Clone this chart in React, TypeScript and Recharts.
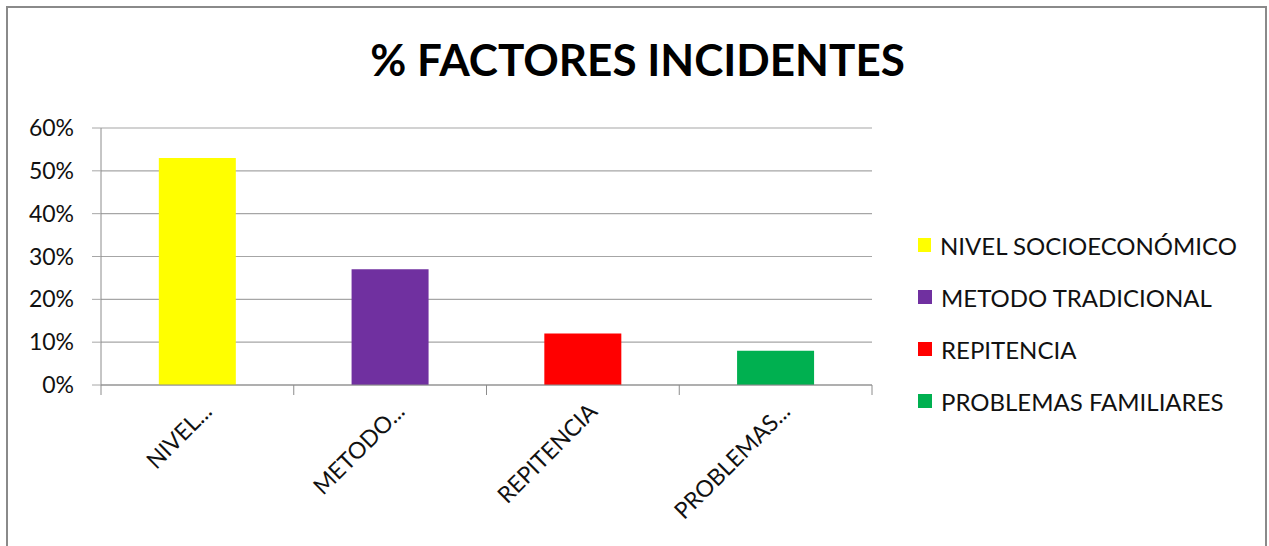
import React from 'react';
import { BarChart, Bar, XAxis, YAxis, CartesianGrid, Cell, Legend } from 'recharts';

const categories = ['NIVEL SOCIOECONÓMICO', 'METODO TRADICIONAL', 'REPITENCIA', 'PROBLEMAS FAMILIARES'];
const axisLabels = ['NIVEL...', 'METODO...', 'REPITENCIA', 'PROBLEMAS...'];
const percentages = [0.53, 0.27, 0.12, 0.08];
const barColors = ['#FFFF00', '#7030A0', '#FF0000', '#00B050'];
const yTicks = [0, 0.1, 0.2, 0.3, 0.4, 0.5, 0.6];

const data = categories.map((name, i) => ({ name, value: percentages[i] }));

const CategoryTick = (props: any) => {
  const { x, y, payload, index, visibleTicksCount } = props;
  const half = payload?.offset ?? 0;
  return (
    <g>
      <line x1={x - half} y1={y} x2={x - half} y2={y + 10} stroke="#8c8c8c" />
      {index === visibleTicksCount - 1 && (
        <line x1={x + half} y1={y} x2={x + half} y2={y + 10} stroke="#8c8c8c" />
      )}
      <text
        transform={`translate(${x + 16},${y + 28}) rotate(-45)`}
        textAnchor="end"
        fontSize={23}
        fill="#111"
      >
        {axisLabels[index]}
      </text>
    </g>
  );
};

const LegendBox = () => (
  <div style={{ width: 365, paddingLeft: 46, boxSizing: 'border-box' }}>
    {categories.map((c, i) => (
      <div key={c} style={{ height: 52, display: 'flex', alignItems: 'center' }}>
        <span style={{ width: 14, height: 14, background: barColors[i], display: 'inline-block', marginRight: 9 }} />
        <span style={{ fontSize: 24, color: '#111', whiteSpace: 'nowrap' }}>{c}</span>
      </div>
    ))}
  </div>
);

export default function App() {
  return (
    <div style={{ position: 'absolute', left: 0, top: 0, width: 1269, height: 546, fontFamily: 'Lato', background: '#fff', overflow: 'hidden' }}>
      <div style={{ position: 'absolute', left: 6, top: 6, width: 1257, height: 560, border: '2px solid #8a8a8a' }} />
      <div style={{ position: 'absolute', left: 0, top: 37, width: 1275, textAlign: 'center', fontSize: 44, fontWeight: 700, lineHeight: 1, color: '#000' }}>
        % FACTORES INCIDENTES
      </div>
      <BarChart
        width={1269}
        height={546}
        data={data}
        margin={{ top: 128, right: 32, bottom: 11, left: 7 }}
        barCategoryGap="30%"
      >
        <CartesianGrid vertical={false} stroke="#a6a6a6" strokeWidth={1.2} />
        <YAxis
          width={94}
          domain={[0, 0.6]}
          ticks={yTicks}
          tickFormatter={(v: number) => `${Math.round(v * 100)}%`}
          tickSize={9}
          tickMargin={18}
          axisLine={{ stroke: '#8c8c8c' }}
          tickLine={{ stroke: '#a6a6a6' }}
          tick={{ fill: '#111', fontSize: 23 }}
        />
        <XAxis
          dataKey="name"
          height={150}
          interval={0}
          tickSize={0}
          tickMargin={0}
          tickLine={false}
          axisLine={{ stroke: '#8c8c8c' }}
          tick={<CategoryTick />}
        />
        <Legend
          layout="vertical"
          align="right"
          verticalAlign="middle"
          wrapperStyle={{ top: 219 }}
          content={() => <LegendBox />}
        />
        <Bar dataKey="value" isAnimationActive={false}>
          {data.map((d, i) => (
            <Cell key={d.name} fill={barColors[i]} />
          ))}
        </Bar>
      </BarChart>
    </div>
  );
}
